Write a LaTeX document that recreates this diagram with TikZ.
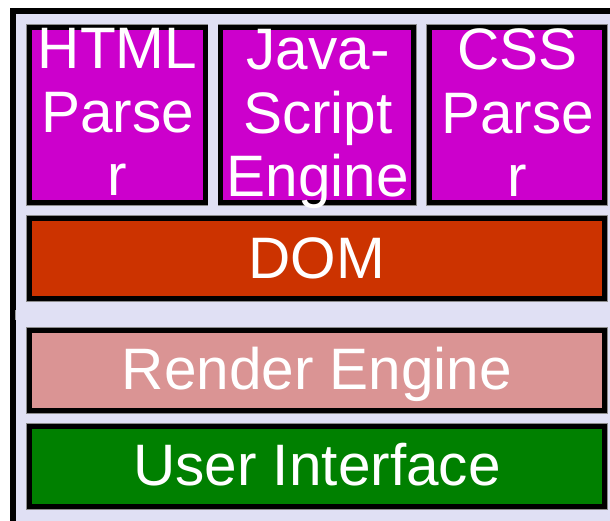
\documentclass[tikz,border=0pt]{standalone}
\usepackage{fontspec}
\setmainfont{Liberation Sans}
\definecolor{lavbg}{RGB}{224,224,244}
\definecolor{parsermag}{RGB}{204,0,204}
\definecolor{domred}{RGB}{204,51,0}
\definecolor{renderpink}{RGB}{218,148,148}
\definecolor{uigreen}{RGB}{0,128,0}
\begin{document}
\begin{tikzpicture}[x=1pt,y=-1pt,
  layerbox/.style={draw=black, line width=5pt, inner sep=0pt, outer sep=0pt,
    preaction={draw=black!45, line width=6.6pt}},
  toplabel/.style={anchor=north, inner sep=0pt, align=center, text=white,
    font=\fontsize{58.5}{63.5}\selectfont},
  widelabel/.style={text=white, font=\fontsize{58.5}{63.5}\selectfont,
    text height=41.9pt, text depth=3pt}]
  \useasboundingbox (0,0) rectangle (610,521);
  \begin{scope}
    \clip (0,0) rectangle (610,521);
    % outer frame and background
    \draw[line width=6pt, fill=lavbg] (13,11) rectangle (640,540);
    \draw[black!40, line width=1pt] (15.5,310) -- (15.5,320);
  \end{scope}
  % top row: parsers and script engine
  \node[layerbox, fill=parsermag, minimum width=175.8pt, minimum height=175pt] (html) at (117.1,115) {};
  \node[layerbox, fill=parsermag, minimum width=192.5pt, minimum height=175pt] (js) at (317.05,115) {};
  \node[layerbox, fill=parsermag, minimum width=175.5pt, minimum height=175pt] (css) at (516.95,115) {};
  \node[toplabel] (htmltext) at (117.6,28.5) {HTML\\Parse\\r};
  \node[toplabel] (jstext) at (318,29.5) {Java-\\Script\\Engine};
  \node[toplabel] (csstext) at (517.5,28.5) {CSS\\Parse\\r};
  % wide layers
  \node[layerbox, fill=domred, minimum width=575.5pt, minimum height=80.2pt, widelabel] (dom) at (316.95,258.6) {DOM};
  \node[layerbox, fill=renderpink, minimum width=575.5pt, minimum height=80pt, widelabel] (render) at (316.95,370.5) {Render Engine};
  \node[layerbox, fill=uigreen, minimum width=575.5pt, minimum height=80pt, widelabel] (ui) at (316.95,466.5) {User Interface};
\end{tikzpicture}
\end{document}
